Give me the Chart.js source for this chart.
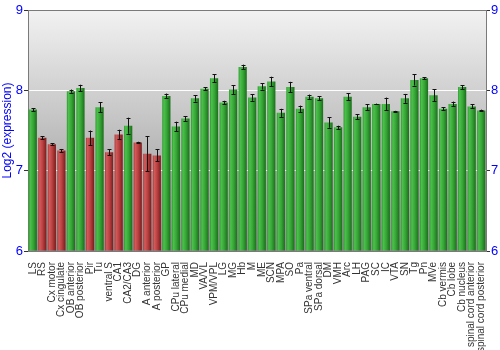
<!DOCTYPE html>
<html><head><meta charset="utf-8">
<script src="https://cdn.jsdelivr.net/npm/chart.js@4/dist/chart.umd.min.js"></script>
<style>html,body{margin:0;padding:0;background:#fff}#wrap{width:500px;height:350px}</style>
</head><body><div id="wrap"><canvas id="c" width="500" height="350"></canvas></div>
<script>
const categories = ["LS","RS","Cx motor","Cx cingulate","OB anterior","OB posterior","Pir","Tu","ventral S","CA1","CA2/CA3","DG","A anterior","A posterior","GP","CPu lateral","CPu medial","MD","VA/VL","VPM/VPL","LG","MG","Hb","M","ME","SCN","MPA","SO","Pa","SPa ventral","SPa dorsal","DM","VMH","Arc","LH","PAG","SC","IC","VTA","SN","Tg","Pn","MVe","Cb vermis","Cb lobe","Cb nucleus","spinal cord anterior","spinal cord posterior"];
const values = [7.76,7.41,7.33,7.25,7.99,8.03,7.41,7.79,7.23,7.45,7.56,7.35,7.21,7.19,7.93,7.55,7.65,7.90,8.02,8.15,7.85,8.01,8.29,7.91,8.05,8.11,7.72,8.04,7.77,7.92,7.90,7.60,7.54,7.92,7.67,7.79,7.83,7.83,7.74,7.90,8.13,8.15,7.94,7.77,7.83,8.04,7.80,7.75];
const errors = [0.02,0.02,0.01,0.02,0.02,0.04,0.09,0.06,0.035,0.06,0.10,0.01,0.22,0.075,0.03,0.06,0.03,0.04,0.02,0.05,0.02,0.055,0.03,0.04,0.04,0.06,0.05,0.066,0.04,0.027,0.025,0.065,0.02,0.045,0.03,0.035,0.005,0.08,0.005,0.055,0.07,0.015,0.075,0.02,0.03,0.025,0.025,0.01];
const groups = ["g","r","r","r","g","g","r","g","r","r","g","r","r","r","g","g","g","g","g","g","g","g","g","g","g","g","g","g","g","g","g","g","g","g","g","g","g","g","g","g","g","g","g","g","g","g","g","g"];
const yTicks = [6,7,8,9];

const BAR_PCT = 0.86;
function barFill(ctx){
  const chart = ctx.chart;
  const g = groups[ctx.dataIndex];
  if(!chart.chartArea) return g==='r' ? '#b04040' : '#30a030';
  const xs = chart.scales.x;
  const cx = xs.getPixelForValue(ctx.dataIndex);
  const w = xs.width / categories.length * BAR_PCT;
  const grad = chart.ctx.createLinearGradient(cx - w/2, 0, cx + w/2, 0);
  if(g==='r'){
    grad.addColorStop(0,'#a83a3a');
    grad.addColorStop(0.2,'#d45a5a');
    grad.addColorStop(0.55,'#b84040');
    grad.addColorStop(1,'#7a1c1c');
  } else {
    grad.addColorStop(0,'#2e9a2e');
    grad.addColorStop(0.2,'#4cc04c');
    grad.addColorStop(0.55,'#36a636');
    grad.addColorStop(1,'#1a6e1a');
  }
  return grad;
}

const bgPlugin = {
  id:'bg',
  beforeDraw(chart){
    const {ctx, chartArea:a} = chart;
    const g = ctx.createLinearGradient(0,a.top,0,a.bottom);
    g.addColorStop(0,'#f2f2f2');
    g.addColorStop(1,'#8e8e8e');
    ctx.save(); ctx.fillStyle=g; ctx.fillRect(a.left,a.top,a.right-a.left,a.bottom-a.top); ctx.restore();
  },
  afterDraw(chart){
    const {ctx, chartArea:a} = chart;
    ctx.save(); ctx.strokeStyle='#7a7a7a'; ctx.lineWidth=1;
    ctx.beginPath(); ctx.moveTo(a.left,a.top+0.5); ctx.lineTo(a.right,a.top+0.5); ctx.stroke();
    ctx.restore();
  }
};
const errPlugin = {
  id:'err',
  afterDatasetsDraw(chart){
    const {ctx} = chart; const xs = chart.scales.x, ys = chart.scales.y;
    ctx.save(); ctx.strokeStyle='#111'; ctx.lineWidth=1;
    values.forEach((v,i)=>{
      const x = Math.round(xs.getPixelForValue(i))+0.5;
      const y1 = ys.getPixelForValue(v+errors[i]), y2 = ys.getPixelForValue(v-errors[i]);
      ctx.beginPath();
      ctx.moveTo(x,y1); ctx.lineTo(x,y2);
      ctx.moveTo(x-2,Math.round(y1)+0.5); ctx.lineTo(x+2,Math.round(y1)+0.5);
      ctx.moveTo(x-2,Math.round(y2)+0.5); ctx.lineTo(x+2,Math.round(y2)+0.5);
      ctx.stroke();
    });
    ctx.restore();
  }
};

new Chart(document.getElementById('c'),{
  type:'bar',
  data:{labels:categories,datasets:[{data:values,backgroundColor:barFill,borderWidth:0,barPercentage:BAR_PCT,categoryPercentage:1,base:6}]},
  options:{
    responsive:false,animation:false,devicePixelRatio:1,
    layout:{padding:{top:10,left:0,right:0,bottom:0}},
    plugins:{legend:{display:false},tooltip:{enabled:false}},
    scales:{
      x:{
        grid:{display:false},
        border:{color:'#7a7a7a'},
        ticks:{autoSkip:false,maxRotation:90,minRotation:90,color:'#333',font:{family:'Liberation Sans, Arial',size:10},padding:3},
        afterFit(s){s.height=99;}
      },
      y:{
        min:6,max:9,
        afterBuildTicks(s){s.ticks=yTicks.map(v=>({value:v}));},
        grid:{color:(c)=> (c.tick && (c.tick.value===7||c.tick.value===8)) ? 'rgba(255,255,255,0.95)' : 'rgba(0,0,0,0)', tickColor:'#333', tickLength:4, lineWidth:1},
        border:{color:'#7a7a7a'},
        ticks:{color:'#0000ff',font:{family:'Liberation Sans, Arial',size:13},padding:1},
        title:{display:true,text:'Log2 (expression)',color:'#0000ff',font:{family:'Liberation Sans, Arial',size:12},padding:0},
        afterFit(s){s.width=28;}
      },
      y2:{
        position:'right',min:6,max:9,
        afterBuildTicks(s){s.ticks=yTicks.map(v=>({value:v}));},
        grid:{drawOnChartArea:false,tickColor:'#333',tickLength:4},
        border:{color:'#7a7a7a'},
        ticks:{color:'#0000ff',font:{family:'Liberation Sans, Arial',size:13},padding:1},
        afterFit(s){s.width=14;}
      }
    }
  },
  plugins:[bgPlugin,errPlugin]
});
</script></body></html>
